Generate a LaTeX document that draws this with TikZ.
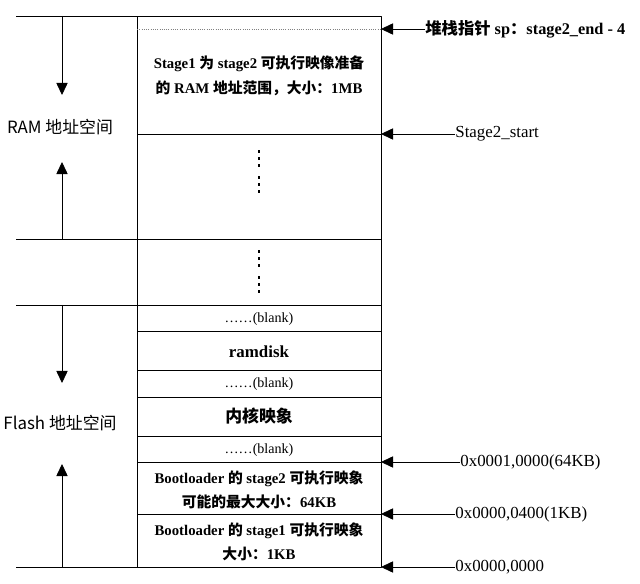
\documentclass[tikz,border=0pt]{standalone}
\usepackage{fontspec}
\setmainfont{Liberation Serif}
\newfontfamily\cjk{Noto Sans CJK SC}
\newcommand\zh[1]{{\cjk #1}}
\usetikzlibrary{arrows.meta}
\begin{document}
\begin{tikzpicture}[x=0.025cm, y=-0.025cm, line width=0.6pt, line join=round,
	>={Triangle[length=0.3cm, width=0.28cm]},
	txt/.style={font=\fontsize{10.5}{17.5}\selectfont\bfseries, align=center, inner sep=0pt},
	big/.style={font=\fontsize{12}{14}\selectfont\bfseries, inner sep=0pt},
	blank/.style={font=\fontsize{10}{12}\selectfont, inner sep=0pt},
	addr/.style={font=\fontsize{12}{14}\selectfont, anchor=west, inner sep=0pt},
	side/.style={font=\cjk\fontsize{12}{14}\selectfont, inner sep=0pt}]
		\useasboundingbox (0,0) rectangle (640,584);
		\draw (137,16) rectangle (381,567);
		\foreach \y in {16,239,305,567}
		\draw (16,\y) -- (381,\y);
		\foreach \y in {134,331,370,397,436,462,514}
		\draw (137,\y) -- (381,\y);
		\draw[gray, line width=0.4pt, dash pattern=on 0.6pt off 1pt] (137,29) -- (381,29);
		\draw[->] (62,16) -- (62,95);
		\draw[->] (62,239) -- (62,162);
		\draw[->] (62,305) -- (62,383);
		\draw[->] (62,567) -- (62,464);
		\node[side] (ram) at (60,127) {RAM 地址空间};
		\node[side] (flash) at (60,423) {Flash 地址空间};
		\foreach \y in {150,157,164,176,183,190,250,257,264,276,283,290}
		\fill (257.8,\y) rectangle (260.4,\y+3.2);
		\node[txt] (s2ram) at (259,76) {Stage1 \zh{\bfseries 为} stage2 \zh{\bfseries 可执行映像准备}\\
			\zh{\bfseries 的} RAM \zh{\bfseries 地址范围，大小：}1MB};
		\node[blank] (blank1) at (259,319) {……(blank)};
		\node[big] (ramdisk) at (259,352) {ramdisk};
		\node[blank] (blank2) at (259,384) {……(blank)};
		\node[big] (kernel) at (259,416) {\zh{\bfseries 内核映象}};
		\node[blank] (blank3) at (259,450) {……(blank)};
		\node[txt, font=\fontsize{10.5}{17}\selectfont\bfseries] (boot2) at (259,490)
			{Bootloader \zh{\bfseries 的} stage2 \zh{\bfseries 可执行映象}\\
			\zh{\bfseries 可能的最大大小：}64KB};
		\node[txt, font=\fontsize{10.5}{17}\selectfont\bfseries] (boot1) at (259,542)
			{Bootloader \zh{\bfseries 的} stage1 \zh{\bfseries 可执行映象}\\
			\zh{\bfseries 大小：}1KB};
		\coordinate (psp) at (381,29);
		\coordinate (pstart) at (381,134);
		\coordinate (p64) at (381,462);
		\coordinate (p1) at (381,514);
		\coordinate (p0) at (381,567);
		\node[addr, font=\fontsize{11.6}{13}\selectfont\bfseries] (sp) at (425,29)
			{\zh{\bfseries 堆栈指针} sp\zh{\bfseries ：}stage2\_end - 4};
		\node[addr] (start) at (455,134) {Stage2\_start};
		\node[addr] (a64) at (460,462) {0x0001,0000(64KB)};
		\node[addr] (a1) at (455,514) {0x0000,0400(1KB)};
		\node[addr] (a0) at (455,567) {0x0000,0000};
		\draw[->] (sp.west) -- (psp);
		\draw[->] (start.west) -- (pstart);
		\draw[->] (a64.west) -- (p64);
		\draw[->] (a1.west) -- (p1);
		\draw[->] (a0.west) -- (p0);
\end{tikzpicture}
\end{document}
